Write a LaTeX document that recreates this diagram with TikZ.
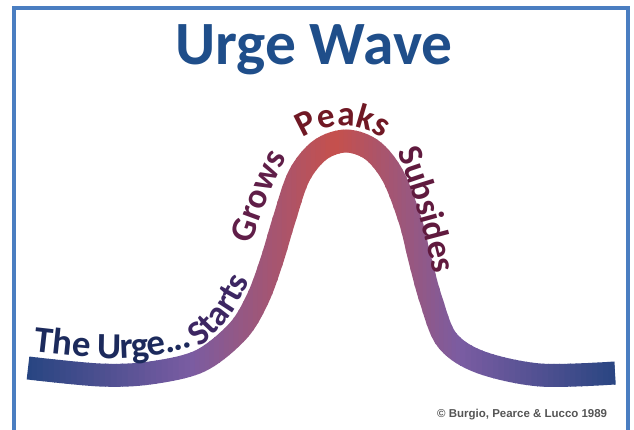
\documentclass[tikz,border=0pt]{standalone}
\usepackage{fontspec}
\setmainfont{Carlito}
\newfontfamily\creditfont{Liberation Sans}
\usetikzlibrary{decorations.text}

\definecolor{frameblue}{RGB}{74,126,193}
\definecolor{titleblue}{RGB}{31,78,138}
\definecolor{waveblue}{RGB}{36,68,128}
\definecolor{wavepurple}{RGB}{122,92,162}
\definecolor{wavered}{RGB}{198,80,76}
\definecolor{urgenavy}{RGB}{28,42,92}
\definecolor{startpurple}{RGB}{60,38,98}
\definecolor{growplum}{RGB}{96,30,72}
\definecolor{peakred}{RGB}{112,24,36}
\definecolor{subplum}{RGB}{96,26,62}
\definecolor{creditgray}{RGB}{85,85,85}

% centre line of the wave (pixel units, y down)
\def\wavepath{plot[smooth, tension=0.55] coordinates {(28,368) (100,375) (150,373) (200,361)
  (238,331) (258,298) (272,260) (284,220) (299,176) (320,150) (346,141) (372,150) (393,176)
  (410,220) (420,260) (431,300) (447,340) (480,362) (540,375) (615,373)}}
\def\wavefont{\bfseries\fontsize{30}{31}\selectfont}

\tikzset{
  wavetext/.style={decorate, decoration={text along path, raise=0.5cm,
    text align/left indent=#1}},
  freetext/.style={decorate, decoration={text along path, text align=center}},
}

\begin{document}
\begin{tikzpicture}[x=0.03cm, y=-0.03cm]
            \useasboundingbox (0,0) rectangle (634,430);

            % Frame
            \draw[frameblue, line width=0.12cm] (14,440) -- (14,8) -- (628,8) -- (628,440);

            % Title
            \node[text=titleblue, font=\bfseries\fontsize{52.5}{60}\selectfont, anchor=base] (title) at (314,65) {Urge Wave};

            % Wave band, coloured strip by strip
            \foreach \xa/\xb/\ca/\cb in {20/190/waveblue/wavepurple, 190/335/wavepurple/wavered,
                                         335/460/wavered/wavepurple, 460/625/wavepurple/waveblue} {
              \foreach \k in {0,...,29} {
                \pgfmathsetmacro\xl{\xa+(\xb-\xa)*\k/30}
                \pgfmathsetmacro\xr{\xa+(\xb-\xa)*(\k+1)/30+0.8}
                \pgfmathtruncatemacro\p{100*(\k+0.5)/30}
                \begin{scope}
                  \clip (\xl,0) rectangle (\xr,430);
                  \draw[line width=0.69cm, draw=\cb!\p!\ca] \wavepath;
                \end{scope}
              }
            }

            % Labels along the wave
            \path[wavetext=0.12cm, decoration={text={|\bfseries\fontsize{31.5}{32}\selectfont\color{urgenavy}|The Urge...}}] \wavepath;
            \path[freetext, decoration={text={|\wavefont\color{startpurple}|Starts}}]
              (190,353) .. controls (217,338) and (238,310) .. (254,271);
            \path[freetext, decoration={text={|\wavefont\color{growplum}|Grows}}]
              (249,252) .. controls (258,222) and (271,186) .. (291,150);
            \path[freetext, decoration={text={|\wavefont\color{peakred}|Peaks}}]
              (343,196) ++(205:70) arc[start angle=205, end angle=335, radius=70];
            \path[freetext, decoration={text={|\wavefont\color{subplum}|Subsides}}]
              (394,142) .. controls (409,178) and (424,228) .. (436,284);

            % Credit
            \node[text=creditgray, font=\creditfont\bfseries\fontsize{9.8}{11}\selectfont, anchor=base west, inner sep=0] (credit) at (437,418) {© Burgio, Pearce \& Lucco 1989};
        \end{tikzpicture}
\end{document}
